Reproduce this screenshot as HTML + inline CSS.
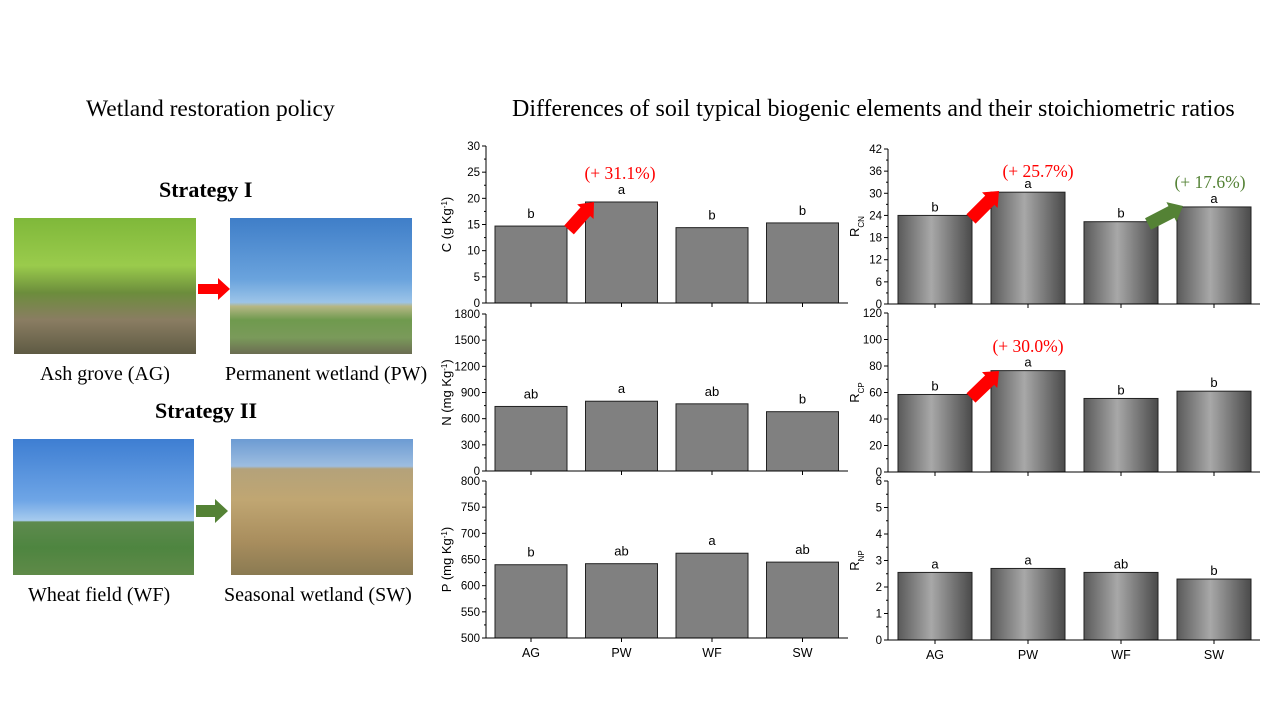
<!DOCTYPE html>
<html><head><meta charset="utf-8">
<style>
body{margin:0;background:#fff;width:1280px;height:720px;overflow:hidden;font-family:"Liberation Serif",serif;}
.t{position:absolute;white-space:nowrap;}
</style></head>
<body>
<div style="position:relative;width:1280px;height:720px;">
<div class="t" style="left:86px;top:96px;font-size:23.5px;">Wetland restoration policy</div>
<div class="t" style="left:512px;top:96px;font-size:24px;">Differences of soil typical biogenic elements and their stoichiometric ratios</div>
<div class="t" style="left:159px;top:177px;font-size:22px;font-weight:bold;">Strategy I</div>
<div class="t" style="left:155px;top:398px;font-size:22px;font-weight:bold;">Strategy II</div>

<div style="position:absolute;left:14px;top:218px;width:182px;height:136px;background:linear-gradient(180deg,#7fb83a 0%,#9acb4c 35%,#6c8d3c 55%,#8a7d62 75%,#5e5a43 100%);"></div>
<div style="position:absolute;left:230px;top:218px;width:182px;height:136px;background:linear-gradient(180deg,#3f7ec8 0%,#6aa3dd 45%,#9cc4e8 62%,#b5b684 65%,#6f9a4e 75%,#7a9a5a 88%,#6b6c52 100%);"></div>
<div style="position:absolute;left:13px;top:439px;width:181px;height:136px;background:linear-gradient(180deg,#3e7ed2 0%,#6ea5e6 45%,#a7cbee 60%,#5e8a4e 61%,#4e8540 80%,#5f8a48 100%);"></div>
<div style="position:absolute;left:231px;top:439px;width:182px;height:136px;background:linear-gradient(180deg,#6c9bd3 0%,#9dbde0 20%,#b4a27a 22%,#c0a672 45%,#a98e5e 75%,#8a7a52 100%);"></div>

<svg style="position:absolute;left:198px;top:278px" width="32" height="22"><polygon points="0,6 20,6 20,0 32,11 20,22 20,16 0,16" fill="#ff0000"/></svg>
<svg style="position:absolute;left:196px;top:499px" width="32" height="24"><polygon points="0,6 19,6 19,0 32,12 19,24 19,18 0,18" fill="#548235"/></svg>

<div class="t" style="left:40px;top:363px;font-size:20px;">Ash grove (AG)</div>
<div class="t" style="left:225px;top:363px;font-size:20px;">Permanent wetland (PW)</div>
<div class="t" style="left:28px;top:584px;font-size:20px;">Wheat field (WF)</div>
<div class="t" style="left:224px;top:584px;font-size:20px;">Seasonal wetland (SW)</div>

<svg id="charts" style="position:absolute;left:0;top:0" width="1280" height="720">
<defs>
<linearGradient id="bg" x1="0" x2="1" y1="0" y2="0">
<stop offset="0" stop-color="#5a5a5a"/><stop offset="0.45" stop-color="#a8a8a8"/><stop offset="1" stop-color="#4a4a4a"/>
</linearGradient>
</defs>
</svg>
</div>
<script>
const categories=["AG","PW","WF","SW"];
const cValues=[14.7,19.3,14.4,15.3];
const cLetters=["b","a","b","b"];
const nValues=[740,800,770,680];
const nLetters=["ab","a","ab","b"];
const pValues=[640,642,662,645];
const pLetters=["b","ab","a","ab"];
const rcnValues=[24.0,30.3,22.3,26.3];
const rcnLetters=["b","a","b","a"];
const rcpValues=[58.5,76.5,55.5,61.0];
const rcpLetters=["b","a","b","b"];
const rnpValues=[2.55,2.7,2.55,2.3];
const rnpLetters=["a","a","ab","b"];
const cTicks=[0,5,10,15,20,25,30];
const nTicks=[0,300,600,900,1200,1500,1800];
const pTicks=[500,550,600,650,700,750,800];
const rcnTicks=[0,6,12,18,24,30,36,42];
const rcpTicks=[0,20,40,60,80,100,120];
const rnpTicks=[0,1,2,3,4,5,6];

const svg=document.getElementById('charts');
const NS='http://www.w3.org/2000/svg';
function mk(tag,at){const e=document.createElementNS(NS,tag);for(const k in at)e.setAttribute(k,at[k]);svg.appendChild(e);return e;}
function txt(x,y,s,at){const e=mk('text',Object.assign({x:x,y:y,'font-family':'Liberation Sans, sans-serif','font-size':12,fill:'#000'},at||{}));e.textContent=s;return e;}

function panel(o){
  const ticks=o.ticks,min=ticks[0],max=ticks[ticks.length-1];
  const ys=v=>o.yb-(v-min)/(max-min)*(o.yb-o.yt);
  const xc=i=>o.c0+i*o.step;
  o.values.forEach((v,i)=>{
    const r=mk('rect',{x:xc(i)-o.bw/2,y:ys(v),width:o.bw,height:o.yb-ys(v),fill:o.fill,stroke:'#222','stroke-width':1});
    
    
    const t=txt(xc(i),ys(v)-o.lg,o.letters[i],{'text-anchor':'middle','font-size':13});
    
    
  });
  const ax=mk('line',{x1:o.xa,y1:o.yt,x2:o.xa,y2:o.yb,stroke:'#000','stroke-width':1});
  
  
  const bx=mk('line',{x1:o.xa,y1:o.yb,x2:o.xe,y2:o.yb,stroke:'#000','stroke-width':1});
  
  
  ticks.forEach((t,k)=>{
    const y=ys(t);
    mk('line',{x1:o.xa-4,y1:y,x2:o.xa,y2:y,stroke:'#000'});
    if(k<ticks.length-1){const ym=ys(t+(ticks[1]-ticks[0])/2);mk('line',{x1:o.xa-2,y1:ym,x2:o.xa,y2:ym,stroke:'#000'});}
    const l=txt(o.xa-6,y+4,String(t),{'text-anchor':'end','font-size':11.5});
    
    
  });
  categories.forEach((c,i)=>{
    mk('line',{x1:xc(i),y1:o.yb,x2:xc(i),y2:o.yb+4,stroke:'#000'});
    if(o.xlabels){const l=txt(xc(i),o.yb+19,c,{'text-anchor':'middle','font-size':12.5});
      
      }
  });
  const ym=(o.yt+o.yb)/2;
  const lx=o.xa-o.lo;
  const yl=txt(lx,ym,'',{'text-anchor':'middle','font-size':13,transform:'rotate(-90 '+lx+' '+ym+')'});
  yl.innerHTML=o.ylabel;
  
  
  return {ys,xc};
}
const L={xa:486,xe:848,c0:531,step:90.5,bw:72,fill:'#808080',lo:35,lg:8};
const R={xa:888,xe:1260,c0:935,step:93,bw:74,fill:'url(#bg)',lo:29,lg:4};
panel(Object.assign({},L,{name:'c',yt:146,yb:303,ticks:cTicks,values:cValues,letters:cLetters,ylabel:'C (g Kg<tspan baseline-shift="super" font-size="8">-1</tspan>)'}));
panel(Object.assign({},L,{name:'n',yt:314,yb:471,ticks:nTicks,values:nValues,letters:nLetters,ylabel:'N (mg Kg<tspan baseline-shift="super" font-size="8">-1</tspan>)'}));
panel(Object.assign({},L,{name:'p',yt:481,yb:638,ticks:pTicks,values:pValues,letters:pLetters,xlabels:true,ylabel:'P (mg Kg<tspan baseline-shift="super" font-size="8">-1</tspan>)'}));
panel(Object.assign({},R,{name:'rcn',yt:149,yb:304,ticks:rcnTicks,values:rcnValues,letters:rcnLetters,ylabel:'R<tspan baseline-shift="sub" font-size="8">CN</tspan>'}));
panel(Object.assign({},R,{name:'rcp',yt:313,yb:472,ticks:rcpTicks,values:rcpValues,letters:rcpLetters,ylabel:'R<tspan baseline-shift="sub" font-size="8">CP</tspan>'}));
panel(Object.assign({},R,{name:'rnp',yt:481,yb:640,ticks:rnpTicks,values:rnpValues,letters:rnpLetters,xlabels:true,ylabel:'R<tspan baseline-shift="sub" font-size="8">NP</tspan>'}));

function arrow(x1,y1,x2,y2,color,name){
  const dx=x2-x1,dy=y2-y1,len=Math.hypot(dx,dy),ux=dx/len,uy=dy/len,nx=-uy,ny=ux;
  const hl=13,hw=11,sw=6.5;
  const bx=x2-ux*hl,by=y2-uy*hl;
  const pts=[[x1+nx*sw,y1+ny*sw],[bx+nx*sw,by+ny*sw],[bx+nx*hw,by+ny*hw],[x2,y2],[bx-nx*hw,by-ny*hw],[bx-nx*sw,by-ny*sw],[x1-nx*sw,y1-ny*sw]];
  const p=mk('polygon',{points:pts.map(q=>q.join(',')).join(' '),fill:color});
  
  
}
function pct(x,y,s,color,name){const t=txt(x,y,s,{'text-anchor':'middle','font-family':'Liberation Serif, serif','font-size':17.5,fill:color});
  
  }
arrow(569,230,594,202,'#ff0000','arrow-c');
pct(620,179,'(+ 31.1%)','#ff0000','pct-c');
arrow(971,219,999,191,'#ff0000','arrow-rcn');
pct(1038,177,'(+ 25.7%)','#ff0000','pct-rcn');
arrow(1148,224,1183,206,'#548235','arrow-rcn-2');
pct(1210,188,'(+ 17.6%)','#548235','pct-rcn-2');
arrow(971,398,999,371,'#ff0000','arrow-rcp');
pct(1028,352,'(+ 30.0%)','#ff0000','pct-rcp');
</script>
</body></html>
